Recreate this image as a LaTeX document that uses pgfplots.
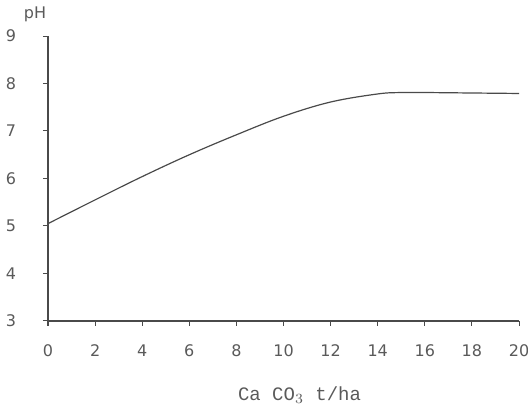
\documentclass[border=0pt]{standalone}
\usepackage{pgfplots}
\pgfplotsset{compat=1.18}
\usepackage{fontspec}
\setmainfont{DejaVu Sans}
\newfontfamily\monofont{Liberation Mono}
\definecolor{txt}{HTML}{5A5A5A}
\definecolor{ink}{HTML}{4A4A4A}
\begin{document}
\begin{tikzpicture}
\begin{axis}[
  at={(0,0)}, anchor=origin,
  scale only axis,
  width=235.5pt, height=142.5pt,
  xmin=0, xmax=20, ymin=3, ymax=9,
  axis x line=bottom, axis y line=left,
  axis line style={ink, line width=1.3pt, -},
  xtick={0,2,...,20}, ytick={3,4,...,9},
  tick style={ink, line width=0.5pt},
  tick align=outside, major tick length=2.5pt,
  /pgf/number format/assume math mode=true,
  ticklabel style={font=\fontsize{8}{9}\selectfont\color{txt}},
  xticklabel style={yshift=-6pt},
  yticklabel style={xshift=-10pt},
  clip=false,
]
\addplot[ink, line width=0.6pt, smooth, tension=0.6] coordinates {
  (0,5.05) (2,5.55) (4,6.04) (6,6.50) (8,6.92) (10,7.31) (12,7.61)
  (14,7.78) (15,7.81) (16,7.81) (18,7.80) (20,7.79)
};
\node[txt, font=\fontsize{8}{9}\selectfont] at (rel axis cs:0,1) [xshift=-6.5pt, yshift=11pt] {pH};
\node[txt, font=\monofont\fontsize{9.5}{11}\selectfont] at (rel axis cs:0.5,0) [xshift=8pt, yshift=-37pt] {Ca CO$_3$ t/ha};
\coordinate (SW) at (rel axis cs:0,0);
\coordinate (NE) at (rel axis cs:1,1);
\end{axis}
\pgfresetboundingbox
\path[use as bounding box] ([xshift=-24pt, yshift=-44pt]SW) rectangle ([xshift=4.5pt, yshift=18pt]NE);
\end{tikzpicture}
\end{document}
